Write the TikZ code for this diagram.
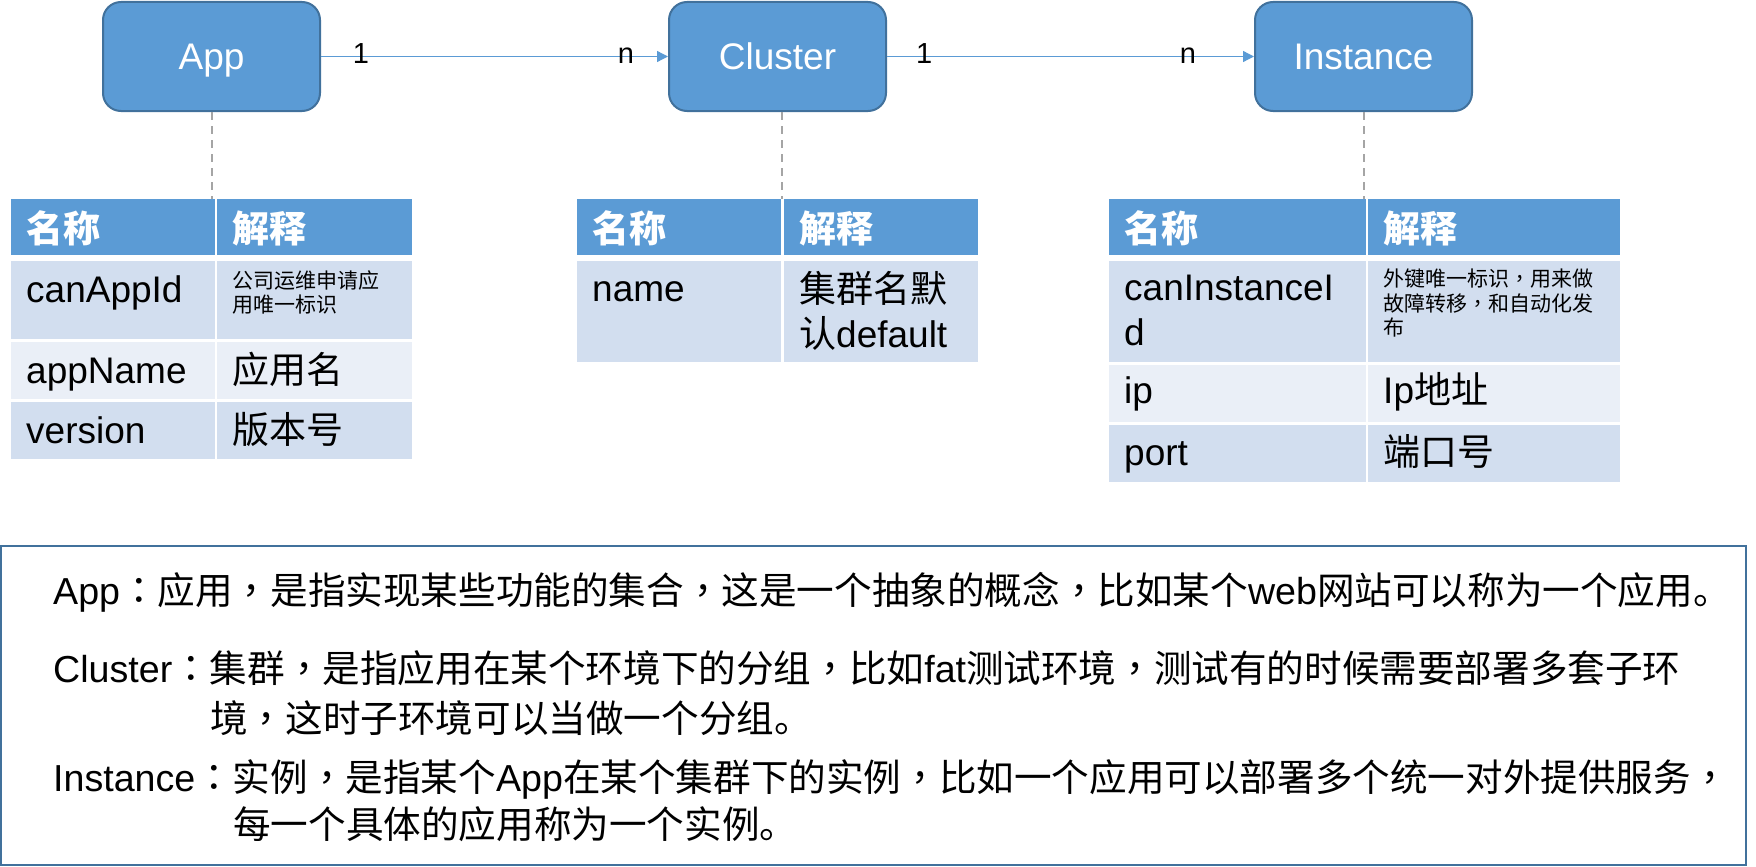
\documentclass[tikz,border=0pt]{standalone}
\usepackage{fontspec}
\setmainfont{Liberation Sans}
\newfontfamily\cjk{Noto Sans CJK SC}
\newfontfamily\cjktc{Noto Sans CJK TC}
\newcommand\zh[1]{{\cjk #1}}
\newcommand\cm{{\cjktc ，}}
\newcommand\cl{{\cjktc ：}}
\usetikzlibrary{arrows.meta,fit}
\definecolor{boxblue}{HTML}{5B9BD5}
\definecolor{boxedge}{HTML}{41719C}
\definecolor{rowdark}{HTML}{D2DEEF}
\definecolor{rowlight}{HTML}{EAEFF7}
\definecolor{dashgray}{HTML}{A5A5A5}
\definecolor{frameblue}{HTML}{41719C}
\begin{document}
\begin{tikzpicture}[x=1pt,y=-1pt,
  ent/.style={draw=boxedge, line width=2pt, fill=boxblue, rounded corners=18pt,
    minimum width=217pt, minimum height=109pt, inner sep=0pt, text=white,
    font=\fontsize{37}{44}\selectfont, text height=26.5pt, text depth=0pt},
  conn/.style={draw=boxblue, line width=1.3pt, -{Triangle[length=11pt,width=11pt]}},
  lbl/.style={font=\fontsize{29}{34}\selectfont, anchor=base, inner sep=0pt, yshift=-7pt},
  link/.style={draw=dashgray, line width=2pt, dash pattern=on 8pt off 6pt},
  cell/.style={inner sep=0pt, draw=none},
  txt/.style={anchor=base west, inner sep=0pt, font=\fontsize{37}{44}\selectfont},
  note/.style={anchor=base west, inner sep=0pt, font=\fontsize{37.6}{44}\selectfont},
  sm/.style={anchor=base west, inner sep=0pt, font=\fontsize{21}{24}\selectfont},
  hd/.style={anchor=base west, inner sep=0pt, text=white, font=\fontsize{37}{44}\selectfont\cjk\bfseries},
  frame/.style={draw=frameblue, line width=2.5pt, inner sep=0pt}
]
\useasboundingbox (0,0) rectangle (1756,867);

% entity boxes
\node[ent] (app) at (211.5,56.5) {App};
\node[ent] (cluster) at (777.5,56.5) {Cluster};
\node[ent] (instance) at (1363.5,56.5) {Instance};

% relations
\draw[conn] (app.east) -- (cluster.west)
  node[lbl, pos=0.115] (l1a) {1}
  node[lbl, pos=0.879] (l1b) {n};
\draw[conn] (cluster.east) -- (instance.west)
  node[lbl, pos=0.101] (l2a) {1}
  node[lbl, pos=0.82] (l2b) {n};

% table 1 (App)
\node[cell, fill=boxblue, fit={(11,199)(215,255)}] (t1h1) {};
\node[cell, fill=boxblue, fit={(217,199)(412,255)}] (t1h2) {};
\node[cell, fill=rowdark, fit={(11,261)(215,339)}] (t1a1) {};
\node[cell, fill=rowdark, fit={(217,261)(412,339)}] (t1a2) {};
\node[cell, fill=rowlight, fit={(11,342)(215,399)}] (t1b1) {};
\node[cell, fill=rowlight, fit={(217,342)(412,399)}] (t1b2) {};
\node[cell, fill=rowdark, fit={(11,402)(215,459)}] (t1c1) {};
\node[cell, fill=rowdark, fit={(217,402)(412,459)}] (t1c2) {};
\node[hd] (t1h1t) at (26,242) {名称};
\node[hd] (t1h2t) at (232,242) {解释};
\node[txt] (t1a1t) at (26,302) {canAppId};
\node[sm] (t1a2t) at (232,288) {\zh{公司运维申请应}};
\node[sm] (t1a2u) at (232,312) {\zh{用唯一标识}};
\node[txt] (t1b1t) at (26,383) {appName};
\node[txt] (t1b2t) at (232,383) {\zh{应用名}};
\node[txt] (t1c1t) at (26,443) {version};
\node[txt] (t1c2t) at (232,443) {\zh{版本号}};

% table 2 (Cluster)
\node[cell, fill=boxblue, fit={(577,199)(781,255)}] (t2h1) {};
\node[cell, fill=boxblue, fit={(784,199)(978,255)}] (t2h2) {};
\node[cell, fill=rowdark, fit={(577,261)(781,362)}] (t2a1) {};
\node[cell, fill=rowdark, fit={(784,261)(978,362)}] (t2a2) {};
\node[hd] (t2h1t) at (592,242) {名称};
\node[hd] (t2h2t) at (799,242) {解释};
\node[txt] (t2a1t) at (592,301) {name};
\node[txt] (t2a2t) at (799,302) {\zh{集群名默}};
\node[txt] (t2a2u) at (799,347) {\zh{认}default};

% table 3 (Instance)
\node[cell, fill=boxblue, fit={(1109,199)(1366,255)}] (t3h1) {};
\node[cell, fill=boxblue, fit={(1368,199)(1620,255)}] (t3h2) {};
\node[cell, fill=rowdark, fit={(1109,261)(1366,362)}] (t3a1) {};
\node[cell, fill=rowdark, fit={(1368,261)(1620,362)}] (t3a2) {};
\node[cell, fill=rowlight, fit={(1109,365)(1366,422)}] (t3b1) {};
\node[cell, fill=rowlight, fit={(1368,365)(1620,422)}] (t3b2) {};
\node[cell, fill=rowdark, fit={(1109,425)(1366,482)}] (t3c1) {};
\node[cell, fill=rowdark, fit={(1368,425)(1620,482)}] (t3c2) {};
\node[hd] (t3h1t) at (1124,242) {名称};
\node[hd] (t3h2t) at (1383,242) {解释};
\node[txt] (t3a1t) at (1124,300) {canInstanceI};
\node[txt] (t3a1u) at (1124,345) {d};
\node[sm] (t3a2t) at (1383,286) {\zh{外键唯一标识}\cm\zh{用来做}};
\node[sm] (t3a2u) at (1383,311) {\zh{故障转移}\cm\zh{和自动化发}};
\node[sm] (t3a2v) at (1383,335) {\zh{布}};
\node[txt] (t3b1t) at (1124,403) {ip};
\node[txt] (t3b2t) at (1383,403) {Ip\zh{地址}};
\node[txt] (t3c1t) at (1124,465) {port};
\node[txt] (t3c2t) at (1383,465) {\zh{端口号}};

% dashed links from entities to their tables
\draw[link] (app.south) -- (app.south |- t1h1.north);
\draw[link] ([xshift=4pt]cluster.south) -- ([xshift=4pt]cluster.south |- t2h1.north);
\draw[link] (instance.south) -- (instance.south |- t3h1.north);

% explanation box
\node[frame, fit={(1,546)(1746,865)}] (notebox) {};
\node[note] (n1) at (53,604) {App\cl\zh{应用}\cm\zh{是指实现某些功能的集合}\cm\zh{这是一个抽象的概念}\cm\zh{比如某个}web\zh{网站可以称为一个应用。}};
\node[note] (n2) at (53,682) {Cluster\cl\zh{集群}\cm\zh{是指应用在某个环境下的分组}\cm\zh{比如}fat\zh{测试环境}\cm\zh{测试有的时候需要部署多套子环}};
\node[note] (n3) at (210,732) {\zh{境}\cm\zh{这时子环境可以当做一个分组。}};
\node[note] (n4) at (53,791) {Instance\cl\zh{实例}\cm\zh{是指某个}App\zh{在某个集群下的实例}\cm\zh{比如一个应用可以部署多个统一对外提供服务}\cm};
\node[note] (n5) at (233,838) {\zh{每一个具体的应用称为一个实例。}};
\end{tikzpicture}
\end{document}
